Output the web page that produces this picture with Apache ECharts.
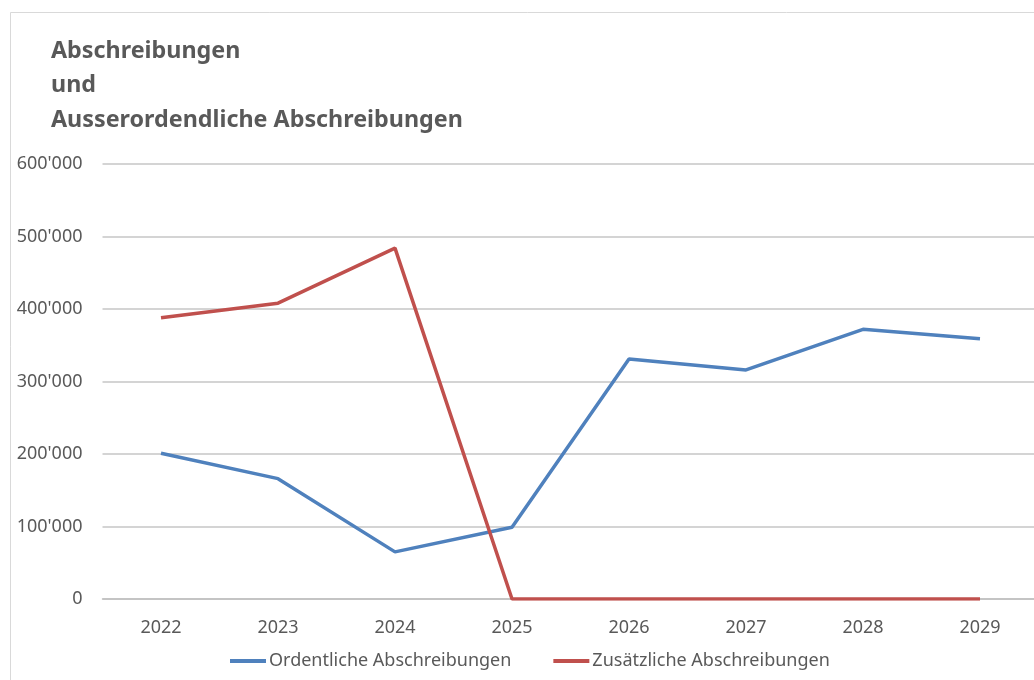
<!DOCTYPE html>
<html style="height: 100%">
<head>
    <meta charset="utf-8">
    <script src="https://cdn.jsdelivr.net/npm/echarts@6/dist/echarts.min.js"></script>
</head>
<body style="height: 100%; margin: 0; background: #fff; overflow: hidden">
    <!-- etwas breiter als das Fenster: die Excel-Vorlage ist rechts abgeschnitten -->
    <div id="container" style="width: 1044px; height: 680px"></div>
    <script type="text/javascript">
        // Daten
        var jahre = ['2022', '2023', '2024', '2025', '2026', '2027', '2028', '2029'];
        var ordentlich = [201000, 166000, 65000, 99000, 331000, 316000, 372000, 359000];
        var zusaetzlich = [388000, 408000, 484000, 0, 0, 0, 0, 0];

        var textFarbe = '#595959';
        var schrift = '"Noto Sans", "Open Sans", sans-serif';

        function tausender(v) {
            return String(v).replace(/\B(?=(\d{3})+(?!\d))/g, "'");
        }

        var myChart = echarts.init(document.getElementById('container'));
        var option = {
            backgroundColor: '#fff',
            animation: false,
            graphic: [{
                type: 'rect',
                shape: { x: 10.5, y: 12.5, width: 1200, height: 1000 },
                style: { fill: 'none', stroke: '#d9d9d9', lineWidth: 1 },
                z: -1
            }],
            title: {
                text: 'Abschreibungen\nund\nAusserordendliche Abschreibungen',
                left: 46,
                top: 29,
                textStyle: {
                    color: textFarbe,
                    fontFamily: schrift,
                    fontWeight: 'bold',
                    fontSize: 23.3,
                    lineHeight: 34.5
                }
            },
            legend: {
                bottom: 5,
                left: 225,
                icon: 'rect',
                itemWidth: 36,
                itemHeight: 4,
                itemGap: 42,
                textStyle: { color: textFarbe, fontFamily: schrift, fontSize: 18, padding: [0, 0, 0, -2] },
                data: ['Ordentliche Abschreibungen', 'Zusätzliche Abschreibungen']
            },
            grid: {
                left: 102.5,
                right: 5.5,
                top: 164,
                bottom: 81,
                containLabel: false
            },
            xAxis: {
                type: 'category',
                data: jahre,
                boundaryGap: true,
                axisLine: { lineStyle: { color: '#bfbfbf', width: 1.5 } },
                axisTick: { show: false },
                axisLabel: { color: textFarbe, fontFamily: schrift, fontSize: 18, margin: 20 }
            },
            yAxis: {
                type: 'value',
                min: 0,
                max: 600000,
                interval: 100000,
                axisLine: { show: false },
                axisTick: { show: false },
                splitLine: { lineStyle: { color: '#c6c6c6', width: 1.5 } },
                axisLabel: {
                    color: textFarbe, fontFamily: schrift, fontSize: 18, margin: 20,
                    formatter: tausender
                }
            },
            series: [{
                name: 'Ordentliche Abschreibungen',
                type: 'line',
                data: ordentlich,
                symbol: 'none',
                color: '#4f81bd',
                lineStyle: { width: 3.5, color: '#4f81bd' }
            }, {
                name: 'Zusätzliche Abschreibungen',
                type: 'line',
                data: zusaetzlich,
                symbol: 'none',
                color: '#c0504d',
                lineStyle: { width: 3.5, color: '#c0504d' }
            }]
        };
        myChart.setOption(option);
    </script>
</body>
</html>
